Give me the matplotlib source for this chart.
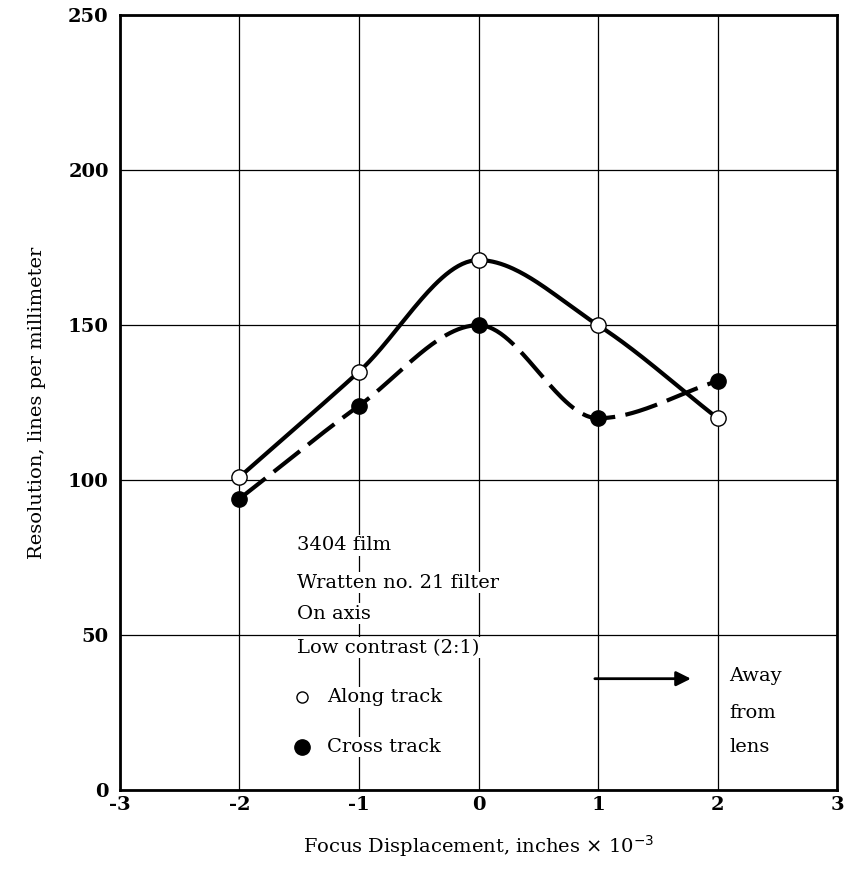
import numpy as np
import matplotlib
matplotlib.use("Agg")
import matplotlib.pyplot as plt

# data
focus = [-2, -1, 0, 1, 2]
along_track = [101, 135, 171, 150, 120]
cross_track = [94, 124, 150, 120, 132]
x_ticks = [-3, -2, -1, 0, 1, 2, 3]
y_ticks = [0, 50, 100, 150, 200, 250]
notes = ["3404 film", "Wratten no. 21 filter", "On axis", "Low contrast (2:1)"]


def smooth(xs, ys, n=60):
    # monotone cubic (Fritsch-Carlson) through the points, like the hand-drawn curves
    x = np.asarray(xs, float)
    y = np.asarray(ys, float)
    h = np.diff(x)
    d = np.diff(y) / h
    m = np.zeros_like(y)
    m[0], m[-1] = d[0], d[-1]
    for k in range(1, len(x) - 1):
        if d[k - 1] * d[k] > 0:
            m[k] = 2 / (1 / d[k - 1] + 1 / d[k])
    t = np.linspace(0, 1, n)
    h00 = 2 * t**3 - 3 * t**2 + 1
    h10 = t**3 - 2 * t**2 + t
    h01 = -2 * t**3 + 3 * t**2
    h11 = t**3 - t**2
    ox, oy = [], []
    for k in range(len(x) - 1):
        ox.append(x[k] + t * h[k])
        oy.append(h00 * y[k] + h10 * h[k] * m[k] + h01 * y[k + 1] + h11 * h[k] * m[k + 1])
    return np.concatenate(ox), np.concatenate(oy)


plt.rcParams['font.family'] = ['DejaVu Serif']

fig = plt.figure(figsize=(8.56, 8.88), dpi=100)
ax = fig.add_axes([0.14, 0.11, 0.838, 0.873])
ax.set_xlim(-3, 3)
ax.set_ylim(0, 250)
ax.set_xticks(x_ticks)
ax.set_yticks(y_ticks)
ax.set_xticklabels([str(v) for v in x_ticks], fontsize=14, fontweight='bold')
ax.set_yticklabels([str(v) for v in y_ticks], fontsize=14, fontweight='bold')
ax.tick_params(axis='x', length=0, pad=4)
ax.tick_params(axis='y', length=0, pad=8)
ax.grid(True, color='black', lw=0.9)
ax.set_axisbelow(True)
for s in ax.spines.values():
    s.set_linewidth(2)

sx, sy = smooth(focus, along_track)
ax.plot(sx, sy, color='black', lw=3, zorder=3)
cx, cy = smooth(focus, cross_track)
ax.plot(cx, cy, color='black', lw=3, dashes=(8, 2.5), zorder=3)

ax.plot(focus, along_track, 'o', ms=11, mfc='white', mec='black', mew=1, zorder=4)
ax.plot(focus, cross_track, 'o', ms=11, mfc='black', mec='black', zorder=4)

for txt, yv in zip(notes, [79, 67, 57, 46]):
    ax.text(-1.52, yv, txt, fontsize=14, va='center', ha='left', zorder=5,
            bbox=dict(facecolor='white', edgecolor='none', pad=1))

ax.plot([-1.48], [30], 'o', ms=8, mfc='white', mec='black', mew=1, zorder=5)
ax.text(-1.27, 30, "Along track", fontsize=14, va='center', ha='left', zorder=5,
        bbox=dict(facecolor='white', edgecolor='none', pad=1))
ax.plot([-1.48], [14], 'o', ms=11, mfc='black', mec='black', zorder=5)
ax.text(-1.27, 14, "Cross track", fontsize=14, va='center', ha='left', zorder=5,
        bbox=dict(facecolor='white', edgecolor='none', pad=1))

ax.annotate("", xy=(1.8, 36), xytext=(0.95, 36),
            arrowprops=dict(arrowstyle='-|>', color='black', lw=2, mutation_scale=22))
ax.text(2.1, 37, "Away", fontsize=14, va='center', ha='left', zorder=5)
ax.text(2.1, 25, "from", fontsize=14, va='center', ha='left', zorder=5)
ax.text(2.1, 14, "lens", fontsize=14, va='center', ha='left', zorder=5)

ax.set_xlabel(r"Focus Displacement, inches $\times$ 10$^{-3}$", fontsize=14, labelpad=14)
ax.set_ylabel("Resolution, lines per millimeter", fontsize=14, labelpad=16)

fig.savefig("out.png", dpi=100)
